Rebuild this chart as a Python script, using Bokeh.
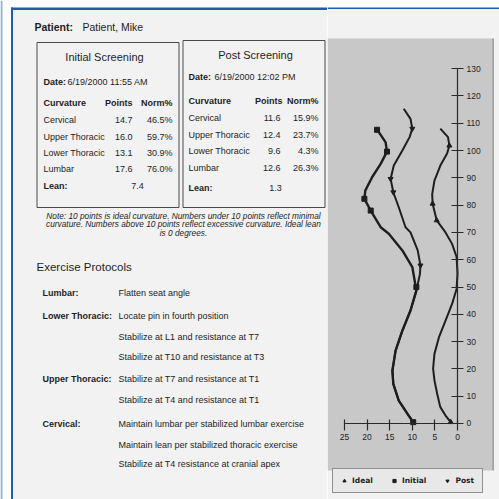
from bokeh.plotting import figure
from bokeh.layouts import row
from bokeh.models import Range1d, BoxAnnotation, Legend, LegendItem, FixedTicker
from bokeh.core.properties import value
from bokeh.embed import file_html
from bokeh.resources import INLINE

# ---------------- data ----------------
patient_label = "Patient:"
patient_name = "Patient, Mike"
initial_title = "Initial Screening"
post_title = "Post Screening"
initial_date = "6/19/2000 11:55 AM"
post_date = "6/19/2000 12:02 PM"
table_headers = ["Curvature", "Points", "Norm%"]
curvatures = ["Cervical", "Upper Thoracic", "Lower Thoracic", "Lumbar"]
initial_points = [14.7, 16.0, 13.1, 17.6]
initial_norm = [46.5, 59.7, 30.9, 76.0]
post_points = [11.6, 12.4, 9.6, 12.6]
post_norm = [15.9, 23.7, 4.3, 26.3]
initial_lean = 7.4
post_lean = 1.3
note_lines = [
    "Note: 10 points is ideal curvature. Numbers under 10 points reflect minimal",
    "curvature. Numbers above 10 points reflect excessive curvature. Ideal lean",
    "is 0 degrees.",
]
protocol_title = "Exercise Protocols"
protocol_groups = ["Lumbar:", "Lower Thoracic:", "Upper Thoracic:", "Cervical:"]
protocol_steps = [
    ["Flatten seat angle"],
    ["Locate pin in fourth position",
     "Stabilize at L1 and resistance at T7",
     "Stabilize at T10 and resistance at T3"],
    ["Stabilize at T7 and resistance at T1",
     "Stabilize at T4 and resistance at T1"],
    ["Maintain lumbar per stabilized lumbar exercise",
     "Maintain lean per stabilized thoracic exercise",
     "Stabilize at T4 resistance at cranial apex"],
]

# spine curves: offset (x) vs height (y)
ideal_offset = [1.5, 2.65, 3.8, 4.5, 5.1, 5.4, 5.1, 4.1, 2.65, 1.2, 0.2, 0.0, 0.2, 1.2, 2.65,
                4.6, 5.5, 5.6, 5.1, 3.8, 2.3, 1.8, 2.1, 3.8]
ideal_height = [0.5, 2.9, 6.0, 10.9, 15.8, 20.1, 25.5, 31.6, 37.7, 43.8, 49.3, 54.9, 61.0, 65.8, 70.0,
                74.4, 80.5, 84.0, 89.0, 94.5, 98.9, 101.8, 104.9, 108.0]
initial_offset = [9.8, 10.8, 13.0, 14.2, 14.4, 13.7, 12.2, 10.4, 9.1, 10.0, 12.2, 15.2, 17.0,
                  19.2, 20.6, 20.4, 18.9, 17.0, 15.6, 15.9, 17.0, 17.8]
initial_height = [0.5, 2.9, 8.4, 14.5, 19.4, 26.7, 34.0, 41.4, 48.7, 57.3, 63.4, 69.5, 71.9,
                  78.0, 82.3, 85.3, 90.2, 95.1, 99.6, 103.0, 105.7, 107.6]
post_offset = [9.8, 10.8, 13.0, 14.2, 14.4, 13.7, 12.2, 10.4, 9.1, 8.3, 8.2, 8.8, 10.4, 11.5,
               13.0, 14.2, 14.8, 14.1, 12.2, 10.6, 10.0, 10.4, 11.9]
post_height = [0.5, 2.9, 8.4, 14.5, 19.4, 26.7, 34.0, 41.4, 48.7, 54.8, 57.9, 63.4, 70.0, 71.9,
               79.2, 84.7, 89.6, 94.5, 100.0, 104.9, 108.0, 111.6, 115.3]
ideal_mark_x = [1.5, 4.6, 5.5, 1.8]
ideal_mark_y = [0.5, 74.4, 80.5, 101.8]
initial_mark_x = [9.8, 9.1, 19.2, 20.6, 15.6, 17.8]
initial_mark_y = [0.5, 50.0, 78.0, 82.3, 99.6, 107.6]
post_mark_x = [8.2, 14.2, 14.8, 10.0]
post_mark_y = [57.9, 84.7, 89.6, 108.0]
series_names = ["Ideal", "Initial", "Post"]
y_ticks = [0, 10, 20, 30, 40, 50, 60, 70, 80, 90, 100, 110, 120, 130]
x_ticks = [0, 5, 10, 15, 20, 25]

# ---------------- styles ----------------
WHITE = "#ffffff"
PAPER = "#f2f2f2"
CHART_BG = "#c8c8c8"
INK = "#1e1e1e"
BLUE = "#1f5ea8"
LIGHT_BLUE = "#8db3dc"
FONT = "Liberation Sans"
NARROW = "'Liberation Sans Narrow', 'Liberation Sans'"


def txt(p, xs, ys, texts, size, style="normal", align="left", font=FONT, color=INK):
    p.text(x=xs, y=ys, text=texts, text_font=value(font),
           text_font_size=value(f"{size}px"), text_font_style=style,
           text_align=align, text_baseline="middle", text_color=color)


# ---------------- left: document ----------------
doc = figure(width=327, height=499, x_range=Range1d(0, 327), y_range=Range1d(499, 0),
             output_backend="svg", toolbar_location=None, min_border=0,
             background_fill_color=WHITE, border_fill_color=WHITE,
             outline_line_color=None)
doc.axis.visible = False
doc.grid.visible = False

# paper + blue frame
doc.quad(left=[12.5], right=[327], top=[9.6], bottom=[499], fill_color=PAPER, line_color=None)
doc.quad(left=[0], right=[2], top=[0], bottom=[499], fill_color=LIGHT_BLUE, line_color=None)
doc.quad(left=[10.5], right=[12.5], top=[7], bottom=[499], fill_color=BLUE, line_color=None)
doc.quad(left=[10.5], right=[327], top=[7], bottom=[9.6], fill_color=BLUE, line_color=None)

# screening boxes
doc.quad(left=[36.5, 182.5], right=[178.5, 324.5], top=[42, 40], bottom=[207, 207],
         fill_color=None, line_color="#4a4a4a", line_width=1)

txt(doc, [34], [26], [patient_label], 10.5, "bold")
txt(doc, [82], [26], [patient_name], 10.5)

# initial table
txt(doc, [104], [56], [initial_title], 11, align="center")
txt(doc, [43], [81], ["Date:"], 9, "bold")
txt(doc, [67], [81], [initial_date], 9)
txt(doc, [43], [102], [table_headers[0]], 9, "bold")
txt(doc, [132], [102], [table_headers[1]], 9, "bold", "right")
txt(doc, [172], [102], [table_headers[2]], 9, "bold", "right")
iy = [119, 136, 152, 168]
txt(doc, [43] * 4, iy, curvatures, 9)
txt(doc, [132] * 4, iy, [f"{v:.1f}" for v in initial_points], 9, align="right")
txt(doc, [172] * 4, iy, [f"{v:.1f}%" for v in initial_norm], 9, align="right")
txt(doc, [43], [185], ["Lean:"], 9, "bold")
txt(doc, [137], [185], [f"{initial_lean:.1f}"], 9, align="center")

# post table
txt(doc, [255], [54], [post_title], 11, align="center")
txt(doc, [188], [76], ["Date:"], 9, "bold")
txt(doc, [214], [76], [post_date], 9)
txt(doc, [188], [100], [table_headers[0]], 9, "bold")
txt(doc, [282], [100], [table_headers[1]], 9, "bold", "right")
txt(doc, [318], [100], [table_headers[2]], 9, "bold", "right")
py_ = [117, 134, 150, 167]
txt(doc, [188] * 4, py_, curvatures, 9)
txt(doc, [280] * 4, py_, [f"{v:.1f}" for v in post_points], 9, align="right")
txt(doc, [318] * 4, py_, [f"{v:.1f}%" for v in post_norm], 9, align="right")
txt(doc, [188], [187], ["Lean:"], 9, "bold")
txt(doc, [275], [187], [f"{post_lean:.1f}"], 9, align="center")

# note
txt(doc, [183] * 3, [215, 223.5, 232], note_lines, 8.3, "italic", "center")

# protocols
txt(doc, [36], [266], [protocol_title], 11.5)
group_y = [292, 315, 378, 423]
step_y = [[292], [315, 336, 356], [378, 399], [423, 444, 463]]
txt(doc, [42] * 4, group_y, protocol_groups, 9, "bold")
sx, sy, st = [], [], []
for ys, steps in zip(step_y, protocol_steps):
    for y, s in zip(ys, steps):
        sx.append(118)
        sy.append(y)
        st.append(s)
txt(doc, sx, sy, st, 9)

# ---------------- right: spine chart ----------------
ch = figure(width=172, height=499, x_range=Range1d(28.76, -9.29), y_range=Range1d(-27.84, 154.95),
            output_backend="svg", toolbar_location=None, min_border=0,
            x_axis_location="below", y_axis_location="right",
            background_fill_color=WHITE, border_fill_color=WHITE, outline_line_color=None)
ch.grid.visible = False
ch.add_layout(BoxAnnotation(top=151.8, fill_color=PAPER, fill_alpha=1.0,
                            line_color=None, level="underlay"))
ch.add_layout(BoxAnnotation(bottom=151.8, top=152.4, fill_color=BLUE, fill_alpha=1.0,
                            line_color=None, level="underlay"))
ch.add_layout(BoxAnnotation(top=141.0, bottom=-17.2, right=-7.74, fill_color=CHART_BG,
                            fill_alpha=1.0, line_color=None, level="underlay"))
ch.add_layout(BoxAnnotation(top=141.0, bottom=-17.2, left=-7.74, right=-8.0,
                            fill_color="#7a7a7a", fill_alpha=1.0, line_color=None,
                            level="underlay"))

for ax in (ch.xaxis, ch.yaxis):
    ax.fixed_location = 0
    ax.axis_line_color = "#2a2a2a"
    ax.axis_line_width = 1.2
    ax.major_tick_line_color = "#2a2a2a"
    ax.major_tick_line_width = 1.2
    ax.minor_tick_line_color = None
    ax.major_label_text_font = NARROW
    ax.major_label_text_font_size = "8.5px"
    ax.major_label_text_color = INK
ch.yaxis.ticker = FixedTicker(ticks=y_ticks)
ch.xaxis.ticker = FixedTicker(ticks=x_ticks)
ch.yaxis.bounds = (0, 130)
ch.xaxis.bounds = (0, 25)
ch.yaxis.major_tick_in = 6
ch.yaxis.major_tick_out = 6
ch.yaxis.major_label_standoff = 3
ch.xaxis.major_tick_in = 4
ch.xaxis.major_tick_out = 7
ch.xaxis.major_label_standoff = 4

ch.line(ideal_offset, ideal_height, line_color=INK, line_width=2.0, line_join="round")
ch.line(initial_offset, initial_height, line_color=INK, line_width=2.4, line_join="round")
ch.line(post_offset, post_height, line_color=INK, line_width=2.0, line_join="round")
r_ideal = ch.scatter(ideal_mark_x, ideal_mark_y, marker="triangle", size=5, color=INK)
r_init = ch.scatter(initial_mark_x, initial_mark_y, marker="square", size=5, color=INK)
r_post = ch.scatter(post_mark_x, post_mark_y, marker="inverted_triangle", size=5, color=INK)

legend = Legend(items=[LegendItem(label=series_names[0], renderers=[r_ideal]),
                       LegendItem(label=series_names[1], renderers=[r_init]),
                       LegendItem(label=series_names[2], renderers=[r_post])],
                orientation="horizontal", location=(5, 6),
                label_text_font="DejaVu Sans", label_text_font_size="7.5px",
                label_text_font_style="bold", label_text_color=INK,
                glyph_width=8, glyph_height=9, label_standoff=4, spacing=17,
                padding=7, margin=0, border_line_color="#3a3a3a", border_line_width=1,
                background_fill_color="#e8e8e8", background_fill_alpha=1.0)
ch.add_layout(legend)

layout = row(doc, ch)
open("out.html", "w").write(file_html(layout, INLINE))
